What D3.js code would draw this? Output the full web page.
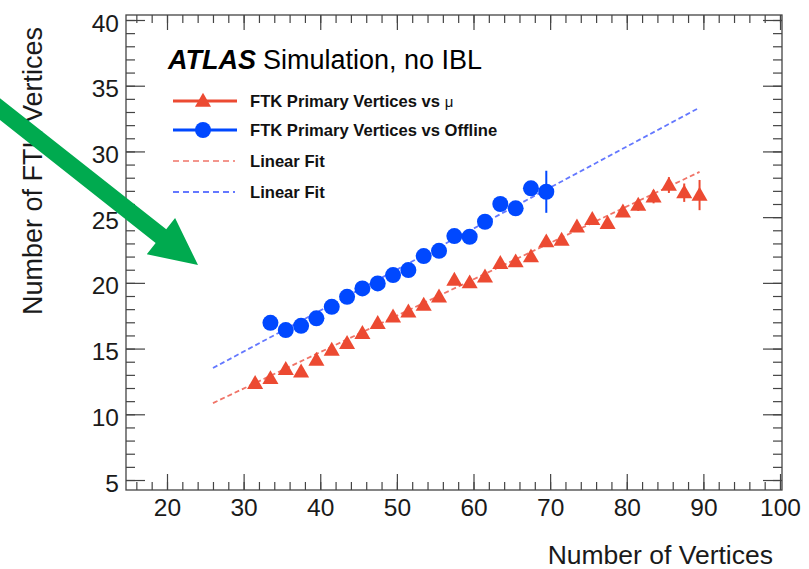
<!DOCTYPE html>
<html>
<head>
<meta charset="utf-8">
<script src="https://cdn.jsdelivr.net/npm/d3@7"></script>
<style>
  html, body { margin: 0; padding: 0; background: #fff; }
  svg { display: block; font-family: "Liberation Sans", Arial, Helvetica, sans-serif; }
</style>
</head>
<body>
<svg id="chart" width="809" height="569"></svg>
<script>
// ---------------- data ----------------
const redX = [31.5,33.5,35.5,37.5,39.5,41.5,43.5,45.5,47.5,49.5,51.5,53.5,55.5,57.5,59.5,61.5,63.5,65.5,67.5,69.5,71.5,73.5,75.5,77.5,79.5,81.5,83.5,85.5,87.5,89.5];
const redY = [12.35,12.73,13.42,13.23,14.12,14.89,15.40,16.16,16.92,17.42,17.80,18.31,18.94,20.21,20.01,20.46,21.48,21.61,21.99,23.13,23.26,24.27,24.83,24.53,25.41,25.92,26.55,27.44,26.86,26.68];
const redErr = [0.15,0.15,0.15,0.15,0.15,0.15,0.15,0.15,0.2,0.2,0.2,0.2,0.2,0.25,0.25,0.25,0.3,0.3,0.3,0.3,0.35,0.35,0.35,0.4,0.4,0.45,0.5,0.6,0.7,1.15];
const blueX = [33.5,35.5,37.5,39.5,41.5,43.5,45.5,47.5,49.5,51.5,53.5,55.5,57.5,59.5,61.5,63.5,65.5,67.5,69.5];
const blueY = [16.96,16.41,16.73,17.30,18.18,18.94,19.58,19.96,20.59,20.97,22.04,22.44,23.56,23.51,24.65,26.00,25.67,27.19,26.93];
const blueErr = [0.2,0.2,0.2,0.2,0.2,0.2,0.2,0.2,0.2,0.25,0.25,0.25,0.3,0.3,0.35,0.4,0.45,0.55,1.6];
// linear fits: [intercept, slope], fit range
const redFit = [3.65, 0.277];
const blueFit = [5.41, 0.312];
const fitRange = [26, 89.5];

const xTicks = [20,30,40,50,60,70,80,90,100];
const yTicks = [5,10,15,20,25,30,35,40];
const xMinor = d3.range(16, 101, 2);
const yMinor = d3.range(5, 41, 1);

const legendLabels = ["FTK Primary Vertices vs ", "FTK Primary Vertices vs Offline", "Linear Fit", "Linear Fit"];
const xTitle = "Number of Vertices";
const yTitle = "Number of FTK Vertices";

// ---------------- style ----------------
const RED = "#ec4a32", BLUE = "#0048ff", RED_FIT = "#f07468", BLUE_FIT = "#6478ff";
const AXIS = "#444";

const svg = d3.select("#chart");
const x = d3.scaleLinear().domain([14.65, 100.26]).range([126, 782]);
const y = d3.scaleLinear().domain([4.24, 40.38]).range([490, 15]);

// axes
function styleAxis(g) {
  g.select(".domain").remove();
  g.selectAll("line").attr("stroke", AXIS).attr("stroke-width", 1.2);
  g.selectAll("text").attr("fill", "#1a1a1a").attr("font-size", 24.5).attr("font-family", "Liberation Sans, Arial, sans-serif");
}
svg.append("g").attr("transform", "translate(0,490)")
  .call(d3.axisBottom(x).tickValues(xMinor).tickSize(-8).tickFormat("")).call(styleAxis);
svg.append("g").attr("transform", "translate(0,490)")
  .call(d3.axisBottom(x).tickValues(xTicks).tickSize(-16).tickPadding(9)).call(styleAxis);
svg.append("g").attr("transform", "translate(0,15)")
  .call(d3.axisTop(x).tickValues(xMinor).tickSize(-8).tickFormat("")).call(styleAxis);
svg.append("g").attr("transform", "translate(0,15)")
  .call(d3.axisTop(x).tickValues(xTicks).tickSize(-15).tickFormat("")).call(styleAxis);
svg.append("g").attr("transform", "translate(126,0)")
  .call(d3.axisLeft(y).tickValues(yMinor).tickSize(-9).tickFormat("")).call(styleAxis);
const yl = svg.append("g").attr("transform", "translate(126,0)")
  .call(d3.axisLeft(y).tickValues(yTicks).tickSize(-19).tickPadding(7)).call(styleAxis);
yl.selectAll("text").attr("dy", "0.45em");
svg.append("g").attr("transform", "translate(782,0)")
  .call(d3.axisRight(y).tickValues(yMinor).tickSize(-9).tickFormat("")).call(styleAxis);
svg.append("g").attr("transform", "translate(782,0)")
  .call(d3.axisRight(y).tickValues(yTicks).tickSize(-19).tickFormat("")).call(styleAxis);

svg.append("rect").attr("x", 126).attr("y", 15).attr("width", 656).attr("height", 475)
  .attr("fill", "none").attr("stroke", AXIS).attr("stroke-width", 1.3);

// axis titles
svg.append("text").attr("x", 773).attr("y", 564).attr("text-anchor", "end")
  .attr("font-size", 26.5).attr("fill", "#1a1a1a").text(xTitle);
svg.append("text").attr("transform", "translate(42,315) rotate(-90)").attr("text-anchor", "start")
  .attr("font-size", 27).attr("fill", "#1a1a1a").text(yTitle);

// fit lines
const fitLine = (f) => d3.line().x(d => x(d)).y(d => y(f[0] + f[1] * d));
svg.append("path").datum(fitRange).attr("d", fitLine(redFit))
  .attr("fill", "none").attr("stroke", RED_FIT).attr("stroke-width", 1.8).attr("stroke-dasharray", "5,3");
svg.append("path").datum(fitRange).attr("d", fitLine(blueFit))
  .attr("fill", "none").attr("stroke", BLUE_FIT).attr("stroke-width", 1.8).attr("stroke-dasharray", "5,3");

// error bars
const redPts = redX.map((v, i) => ({x: v, y: redY[i], e: redErr[i]}));
const bluePts = blueX.map((v, i) => ({x: v, y: blueY[i], e: blueErr[i]}));
function errBars(pts, color) {
  svg.append("g").selectAll("line").data(pts).join("line")
    .attr("x1", d => x(d.x)).attr("x2", d => x(d.x))
    .attr("y1", d => y(d.y - d.e)).attr("y2", d => y(d.y + d.e))
    .attr("stroke", color).attr("stroke-width", 2);
}
errBars(redPts, RED);
errBars(bluePts, BLUE);

// markers
const tri = d3.symbol().type(d3.symbolTriangle).size(112);
svg.append("g").selectAll("path").data(redPts).join("path")
  .attr("transform", d => `translate(${x(d.x)},${y(d.y) + 1})`)
  .attr("d", tri).attr("fill", RED);
svg.append("g").selectAll("circle").data(bluePts).join("circle")
  .attr("cx", d => x(d.x)).attr("cy", d => y(d.y)).attr("r", 8).attr("fill", BLUE);

// ATLAS label
const lab = svg.append("text").attr("x", 168).attr("y", 69).attr("font-size", 27).attr("fill", "#000");
lab.append("tspan").attr("font-weight", "bold").attr("font-style", "italic").text("ATLAS");
lab.append("tspan").attr("dx", 7).text("Simulation, no IBL");

// legend
const legY = [101, 130, 161, 192];
const lg = svg.append("g");
lg.append("line").attr("x1", 173).attr("x2", 237).attr("y1", legY[0]).attr("y2", legY[0]).attr("stroke", RED).attr("stroke-width", 3);
lg.append("path").attr("transform", `translate(203,${legY[0] + 1})`).attr("d", tri).attr("fill", RED);
lg.append("line").attr("x1", 173).attr("x2", 237).attr("y1", legY[1]).attr("y2", legY[1]).attr("stroke", BLUE).attr("stroke-width", 3);
lg.append("circle").attr("cx", 203).attr("cy", legY[1]).attr("r", 8).attr("fill", BLUE);
lg.append("line").attr("x1", 173).attr("x2", 235).attr("y1", legY[2]).attr("y2", legY[2]).attr("stroke", RED_FIT).attr("stroke-width", 1.5).attr("stroke-dasharray", "6,4");
lg.append("line").attr("x1", 173).attr("x2", 235).attr("y1", legY[3]).attr("y2", legY[3]).attr("stroke", BLUE_FIT).attr("stroke-width", 2).attr("stroke-dasharray", "6,4");
legendLabels.forEach((t, i) => {
  const tx = lg.append("text").attr("x", 250).attr("y", legY[i] + 6).attr("font-size", 16.6)
    .attr("font-weight", "bold").attr("fill", "#111").text(t);
  if (i === 0) tx.append("tspan").attr("font-weight", "normal").attr("font-size", 15).text("\u03bc");
});

// green annotation arrow (pixel-space overlay)
(function () {
  const tip = [198, 265], ang = Math.atan2(0.78, 1);
  const d = [Math.cos(ang), Math.sin(ang)], n = [-d[1], d[0]];
  const headL = 47, headW = 23, shaftW = 8.6;
  const B = [tip[0] - headL * d[0], tip[1] - headL * d[1]];
  const S = [-20 * d[0], 109 - 20 * d[1]];
  const p = (P, k) => [P[0] + k * n[0], P[1] + k * n[1]];
  const pts = [p(S, -shaftW), p(B, -shaftW), p(B, -headW), tip, p(B, headW), p(B, shaftW), p(S, shaftW)];
  svg.append("path").attr("d", d3.line()(pts) + "Z").attr("fill", "#00aa4f");
})();
</script>
</body>
</html>
